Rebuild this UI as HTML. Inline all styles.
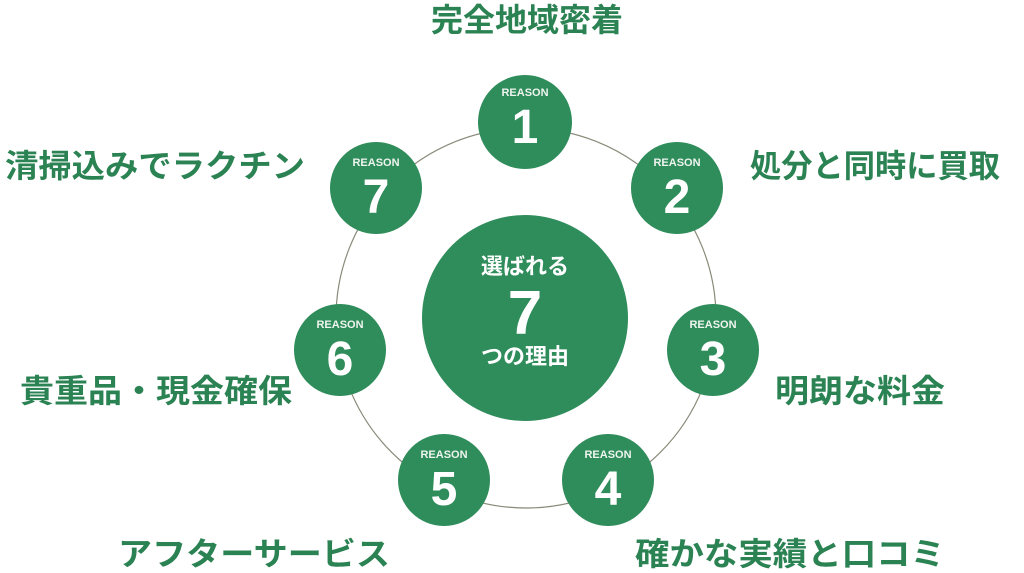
<!DOCTYPE html>
<html><head><meta charset="utf-8"><style>
html,body{margin:0;padding:0;background:#fff;width:1024px;height:573px;overflow:hidden}
svg{display:block}
.lbl{font-family:"Liberation Sans","Noto Sans CJK JP",sans-serif;font-weight:bold;fill:#2b8253;font-size:32px}
.rs{font-family:"Liberation Sans",sans-serif;font-weight:bold;fill:#eef5ef;font-size:11px}
.num{font-family:"Liberation Sans",sans-serif;fill:#fff;font-size:48px;font-weight:bold}
.ct{font-family:"Liberation Sans","Noto Sans CJK JP",sans-serif;font-weight:bold;fill:#fff}
</style></head><body>
<svg width="1024" height="573" viewBox="0 0 1024 573">
<circle cx="526" cy="318" r="190" fill="none" stroke="#8a8a7a" stroke-width="1.2"/>
<circle cx="525" cy="318" r="103" fill="#2f8c5b"/>
<text class="ct" x="525" y="274" font-size="22" text-anchor="middle">選ばれる</text>
<text class="ct" x="525" y="334" font-size="62" text-anchor="middle" font-family="Liberation Sans,sans-serif">7</text>
<text class="ct" x="525" y="364" font-size="22" text-anchor="middle">つの理由</text>
<g>
<circle cx="525" cy="122" r="47" fill="#2f8c5b"/><text class="rs" x="525" y="96" text-anchor="middle">REASON</text><text class="num" x="525" y="143" text-anchor="middle">1</text>
<circle cx="677" cy="188" r="46" fill="#2f8c5b"/><text class="rs" x="677" y="166" text-anchor="middle">REASON</text><text class="num" x="677" y="213" text-anchor="middle">2</text>
<circle cx="713" cy="350" r="46" fill="#2f8c5b"/><text class="rs" x="713" y="328" text-anchor="middle">REASON</text><text class="num" x="713" y="375" text-anchor="middle">3</text>
<circle cx="608" cy="480" r="46" fill="#2f8c5b"/><text class="rs" x="608" y="458" text-anchor="middle">REASON</text><text class="num" x="608" y="505" text-anchor="middle">4</text>
<circle cx="444" cy="480" r="46" fill="#2f8c5b"/><text class="rs" x="444" y="458" text-anchor="middle">REASON</text><text class="num" x="444" y="505" text-anchor="middle">5</text>
<circle cx="340" cy="350" r="46" fill="#2f8c5b"/><text class="rs" x="340" y="328" text-anchor="middle">REASON</text><text class="num" x="340" y="375" text-anchor="middle">6</text>
<circle cx="376" cy="188" r="46" fill="#2f8c5b"/><text class="rs" x="376" y="166" text-anchor="middle">REASON</text><text class="num" x="376" y="213" text-anchor="middle">7</text>
</g>
<text class="lbl" x="527" y="31" text-anchor="middle">完全地域密着</text>
<text class="lbl" x="5" y="177" textLength="300" lengthAdjust="spacingAndGlyphs">清掃込みでラクチン</text>
<text class="lbl" x="750" y="177" textLength="250" lengthAdjust="spacingAndGlyphs">処分と同時に買取</text>
<text class="lbl" x="775" y="402" textLength="170" lengthAdjust="spacingAndGlyphs">明朗な料金</text>
<text class="lbl" x="20" y="402" textLength="272" lengthAdjust="spacingAndGlyphs">貴重品・現金確保</text>
<text class="lbl" x="118" y="565" textLength="272" lengthAdjust="spacingAndGlyphs">アフターサービス</text>
<text class="lbl" x="635" y="565" textLength="310" lengthAdjust="spacingAndGlyphs">確かな実績と口コミ</text>
</svg>
</body></html>
